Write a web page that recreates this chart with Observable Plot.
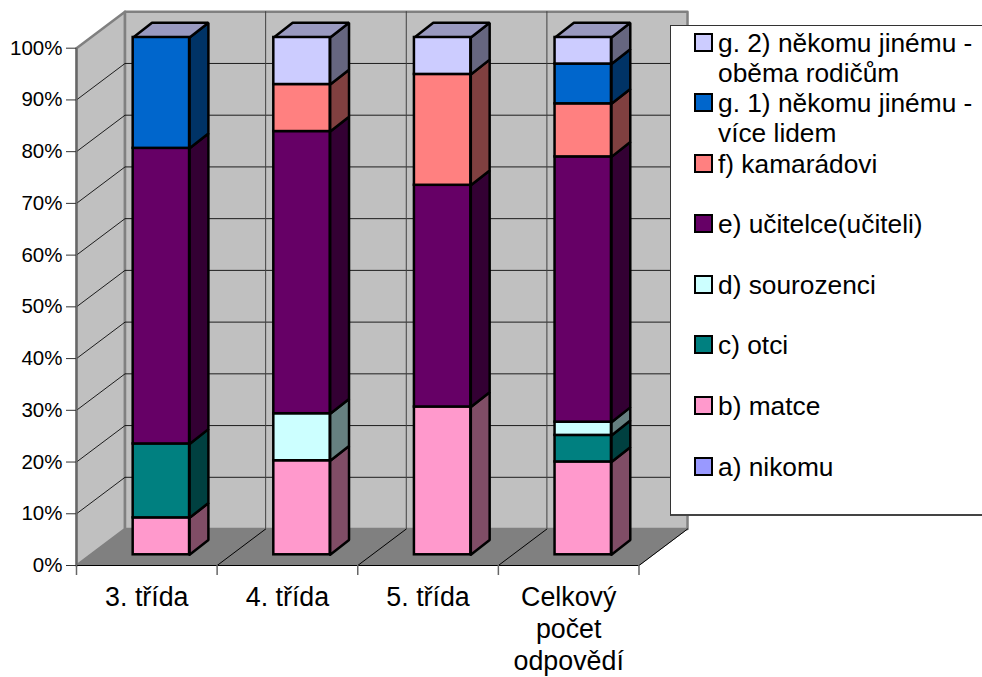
<!DOCTYPE html>
<html lang="cs">
<head>
<meta charset="utf-8">
<script src="https://cdn.jsdelivr.net/npm/d3@7"></script>
<script src="https://cdn.jsdelivr.net/npm/@observablehq/plot@0.6"></script>
<style>
  html, body { margin: 0; padding: 0; background: #fff; }
  body { width: 982px; height: 677px; position: relative; overflow: hidden; font-family: "Liberation Sans", Arial, sans-serif; color: #000; }
  svg { display: block; }
  #legend { position: absolute; left: 670px; top: 25px; width: 320px; height: 486px; background: #fff; border: 1px solid #333; border-bottom: 2px solid #444; box-sizing: content-box; padding-top: 1.5px; }
  .row { height: 60.6px; display: flex; align-items: flex-start; font-size: 26.3px; line-height: 30px; white-space: pre-line; }
  .sw { width: 15px; height: 15px; border: 2px solid #000; margin: 5px 5px 0 23px; flex: none; }
</style>
</head>
<body>
<div id="chart"></div>
<div id="legend"></div>
<script>
const categories = ["3. třída", "4. třída", "5. třída", "Celkový\npočet\nodpovědí"];
const yTicks = [0, 10, 20, 30, 40, 50, 60, 70, 80, 90, 100];

const seriesNames = [
  "a) nikomu", "b) matce", "c) otci", "d) sourozenci", "e) učitelce(učiteli)",
  "f) kamarádovi", "g. 1) někomu jinému -\nvíce lidem", "g. 2) někomu jinému -\noběma rodičům"
];
const nikomu     = [0, 0, 0, 0];
const matce      = [7.14, 18.18, 28.57, 17.95];
const otci       = [14.29, 0, 0, 5.13];
const sourozenci = [0, 9.09, 0, 2.56];
const ucitelce   = [57.14, 54.55, 42.86, 51.28];
const kamaradovi = [0, 9.09, 21.43, 10.26];
const jinemu1    = [21.43, 0, 0, 7.69];
const jinemu2    = [0, 9.09, 7.14, 5.13];
const seriesValues = [nikomu, matce, otci, sourozenci, ucitelce, kamaradovi, jinemu1, jinemu2];

const frontColors = ["#9999FF", "#FF99CC", "#008080", "#CCFFFF", "#660066", "#FF8080", "#0066CC", "#CCCCFF"];
const sideColors  = ["#4D4D80", "#804D66", "#004040", "#668080", "#330033", "#804040", "#003366", "#666680"];
const topColor = "#9999C0";

// oblique projection, in data units of the two scales
const wallDX = 0.345, wallDY = 7.05;
const barDX = 0.134, barDY = 2.86;
const barLeft = 0.403, barRight = 0.804, barLift = 2.07;

const poly = (id, fill, pts) => pts.concat([pts[0]]).map(([x, y]) => ({id, fill, x, y}));

const wallPolys = [
  ...poly("left", "#C0C0C0", [[0, 0], [wallDX, wallDY], [wallDX, 100 + wallDY], [0, 100]]),
  ...poly("back", "#C0C0C0", [[wallDX, wallDY], [4 + wallDX, wallDY], [4 + wallDX, 100 + wallDY], [wallDX, 100 + wallDY]])
];
const floorPoly = poly("floor", "#808080", [[0, 0], [4, 0], [4 + wallDX, wallDY], [wallDX, wallDY]]);

const gridSegs = [];
yTicks.filter(t => t > 0 && t < 100).forEach(t => {
  gridSegs.push({id: "l" + t, x: 0, y: t}, {id: "l" + t, x: wallDX, y: t + wallDY}, {id: "l" + t, x: 4 + wallDX, y: t + wallDY});
});
const backVerticals = [1, 2, 3];
const floorSegs = [1, 2, 3].flatMap(i => [{id: i, x: i, y: 0}, {id: i, x: i + wallDX, y: wallDY}]);

const fronts = [], sides = [], tops = [];
categories.forEach((c, i) => {
  let cum = 0;
  const xa = i + barLeft, xb = i + barRight;
  seriesValues.forEach((vals, s) => {
    const v = vals[i];
    if (v > 0) {
      const y1 = cum + barLift, y2 = cum + v + barLift;
      fronts.push({x1: xa, x2: xb, y1, y2, fill: frontColors[s]});
      sides.push(...poly(`s${i}-${s}`, sideColors[s], [[xb, y1], [xb + barDX, y1 + barDY], [xb + barDX, y2 + barDY], [xb, y2]]));
    }
    cum += v;
  });
  const yt = 100 + barLift;
  tops.push(...poly(`t${i}`, topColor, [[xa, yt], [xb, yt], [xb + barDX, yt + barDY], [xa + barDX, yt + barDY]]));
});

const font = '"Liberation Sans", Arial, sans-serif';

const chart = Plot.plot({
  width: 982, height: 677,
  marginLeft: 76, marginRight: 343.5, marginTop: 47.7, marginBottom: 112,
  style: {background: "#fff", color: "#000", fontFamily: font},
  color: {type: "identity"},
  x: {domain: [0, 4]},
  y: {domain: [0, 100]},
  marks: [
    Plot.line(wallPolys, {x: "x", y: "y", z: "id", fill: "fill", stroke: "#808080", strokeWidth: 2.5}),
    Plot.line(gridSegs, {x: "x", y: "y", z: "id", stroke: "#000", strokeWidth: 1, strokeOpacity: 0.85}),
    Plot.ruleX(backVerticals, {x: d => d + wallDX, y1: wallDY, y2: 100 + wallDY, stroke: "#404040", strokeWidth: 1}),
    Plot.line(floorPoly, {x: "x", y: "y", z: "id", fill: "fill", stroke: "#808080", strokeWidth: 1}),
    Plot.line(floorSegs, {x: "x", y: "y", z: "id", stroke: "#000", strokeWidth: 1}),
    Plot.line([{x: 4, y: 0}, {x: 4 + wallDX, y: wallDY}], {x: "x", y: "y", stroke: "#000", strokeWidth: 1}),
    Plot.ruleX([0], {y1: 0, y2: 100, stroke: "#666", strokeWidth: 2}),
    Plot.ruleY([0], {x1: 0, x2: 4, stroke: "#000", strokeWidth: 1}),
    Plot.axisX({ticks: [0, 1, 2, 3, 4], tickSize: 10, tickFormat: () => "", stroke: "#666", strokeWidth: 1.5, label: null}),
    Plot.axisY({ticks: yTicks, tickSize: 10, tickPadding: 4, tickFormat: d => d + "%", fontSize: 20.5, stroke: "#333", label: null}),
    Plot.text(categories, {
      x: (d, i) => i + 0.5, y: 0, text: d => d, dy: 17, lineAnchor: "top", lineHeight: 1.21,
      fontSize: 26.8, fill: "#000"
    }),
    Plot.line(sides, {x: "x", y: "y", z: "id", fill: "fill", stroke: "#000", strokeWidth: 2.5, strokeLinejoin: "miter"}),
    Plot.line(tops, {x: "x", y: "y", z: "id", fill: "fill", stroke: "#000", strokeWidth: 2.5, strokeLinejoin: "miter"}),
    Plot.rect(fronts, {x1: "x1", x2: "x2", y1: "y1", y2: "y2", fill: "fill", stroke: "#000", strokeWidth: 2.5})
  ]
});
document.getElementById("chart").append(chart);

const legend = document.getElementById("legend");
seriesNames.map((n, i) => i).reverse().forEach(i => {
  const row = document.createElement("div");
  row.className = "row";
  const sw = document.createElement("div");
  sw.className = "sw";
  sw.style.background = frontColors[i];
  const label = document.createElement("div");
  label.textContent = seriesNames[i];
  row.append(sw, label);
  legend.append(row);
});
</script>
</body>
</html>
